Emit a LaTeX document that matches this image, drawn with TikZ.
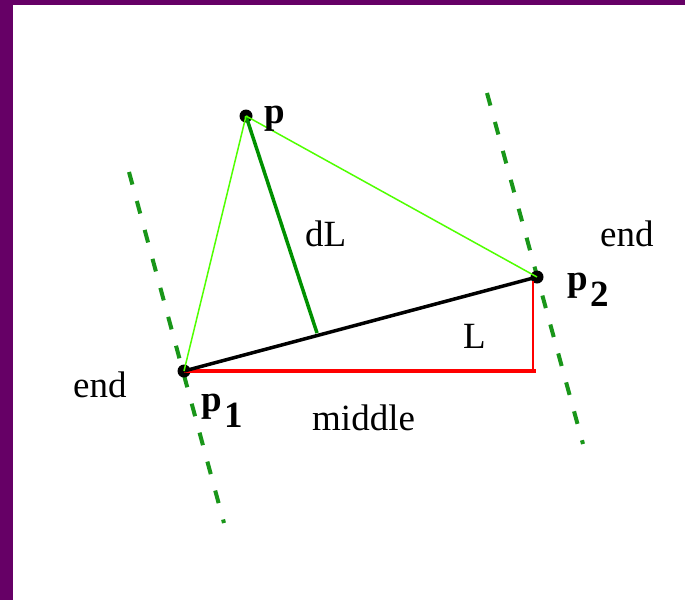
\documentclass[tikz,border=0pt]{standalone}
\usepackage{fontspec}
\setmainfont{Liberation Serif}
\definecolor{frame}{RGB}{102,0,102}
\definecolor{lightgr}{RGB}{80,255,0}
\definecolor{darkgr}{RGB}{0,145,0}
\definecolor{dashgr}{RGB}{25,150,25}
\definecolor{redln}{RGB}{255,0,0}
\begin{document}
\begin{tikzpicture}[x=1pt,y=-1pt,
  dot/.style={circle,fill=black,inner sep=0pt,minimum size=13pt},
  lbl/.style={anchor=base west,inner sep=0pt,font=\fontsize{37}{44}\selectfont},
  endline/.style={dashgr,line width=4pt,dash pattern=on 13pt off 17pt},
  baseline/.style={black,line width=3.5pt},
  sideline/.style={lightgr,line width=1.5pt},
  distline/.style={darkgr,line width=3.5pt},
  redline/.style={redln,line width=3.5pt},
  redthin/.style={redln,line width=2pt}]
\useasboundingbox (0,0) rectangle (685,600);
\fill[frame] (0,0) rectangle (685,600);
\fill[white] (13,5) rectangle (685,600);
% end lines
\coordinate (e1a) at (129,172);
\coordinate (e1b) at (224,523);
\coordinate (e2a) at (487,93);
\coordinate (e2b) at (583,444);
\draw[endline] (e1a) -- (e1b);
\draw[endline] (e2a) -- (e2b);
% points
\node[dot] (p) at (246,116) {};
\node[dot] (p1) at (184,371) {};
\node[dot] (p2) at (537,277) {};
\coordinate (foot) at (317,333);
\coordinate (r1) at (536,371);
\coordinate (r2) at (533,281);
\coordinate (r3) at (533,371);
% lines
\draw[redline] (p1.center) -- (r1);
\draw[redthin] (r2) -- (r3);
\draw[baseline] (p1.center) -- (p2.center);
\draw[distline] (p.center) -- (foot);
\draw[sideline] (p.center) -- (p1.center);
\draw[sideline] (p.center) -- (p2.center);
% labels
\node[lbl] (lp) at (264,123) {\textbf{p}};
\node[lbl] (ldl) at (305,246) {dL};
\node[lbl] (lend2) at (600,246) {end};
\node[lbl] (lp2) at (567,290) {\textbf{p}\raisebox{-0.45em}{\hspace{0.08em}\textbf{2}}};
\node[lbl] (lL) at (463,348) {L};
\node[lbl] (lend1) at (73,397) {end};
\node[lbl] (lp1) at (201,411) {\textbf{p}\raisebox{-0.45em}{\hspace{0.08em}\textbf{1}}};
\node[lbl] (lmid) at (312,430) {middle};
\end{tikzpicture}
\end{document}
